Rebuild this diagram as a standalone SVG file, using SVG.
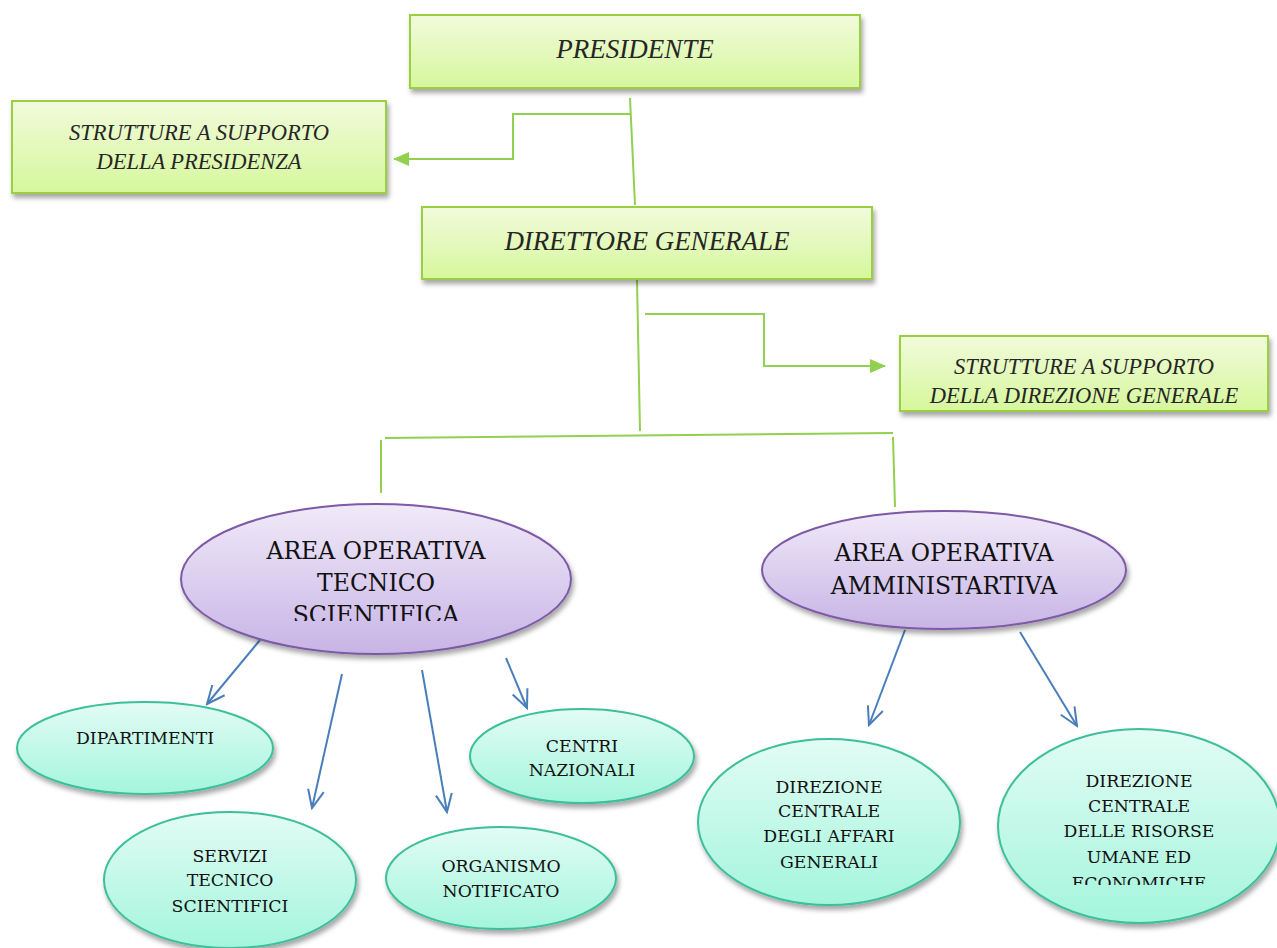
<svg xmlns="http://www.w3.org/2000/svg" width="1277" height="948" viewBox="0 0 1277 948">
<defs>
<linearGradient id="gG" x1="0" y1="0" x2="0" y2="1"><stop offset="0" stop-color="#f1fbdc"/><stop offset="1" stop-color="#d6f79c"/></linearGradient>
<linearGradient id="gP" x1="0" y1="0" x2="0" y2="1"><stop offset="0" stop-color="#f0eaf8"/><stop offset="1" stop-color="#c8b4e6"/></linearGradient>
<linearGradient id="gT" x1="0" y1="0" x2="0" y2="1"><stop offset="0" stop-color="#e2fcf4"/><stop offset="1" stop-color="#a4f5dc"/></linearGradient>
<filter id="sh" x="-10%" y="-10%" width="125%" height="135%"><feDropShadow dx="2" dy="4" stdDeviation="2.5" flood-color="#000" flood-opacity="0.35"/></filter>
<marker id="ag" markerWidth="16" markerHeight="16" refX="15" refY="8" orient="auto" markerUnits="userSpaceOnUse" viewBox="0 0 16 16"><path d="M0,1 L16,8 L0,15 z" fill="#92d050"/></marker>
<marker id="ab" markerWidth="22" markerHeight="22" refX="20" refY="11" orient="auto" markerUnits="userSpaceOnUse" viewBox="0 0 22 22"><path d="M2,3 L20,11 L2,19" fill="none" stroke="#4a7ebb" stroke-width="2"/></marker>
<clipPath id="c1"><rect x="180" y="500" width="400" height="121"/></clipPath>
<clipPath id="c2"><rect x="900" y="336" width="370" height="67"/></clipPath>
<clipPath id="c3"><rect x="990" y="720" width="290" height="165"/></clipPath>
</defs>
<style>
.box{fill:url(#gG);stroke:#9bcf3f;stroke-width:2;filter:url(#sh)}
.pur{fill:url(#gP);stroke:#7d5aa6;stroke-width:2;filter:url(#sh)}
.tea{fill:url(#gT);stroke:#3dbf9a;stroke-width:2;filter:url(#sh)}
.ti{font-family:"Liberation Serif","DejaVu Serif",serif;font-style:italic;fill:#262626;text-anchor:middle}
.tp{font-family:"DejaVu Serif","Liberation Serif",serif;fill:#111;font-size:23.5px;text-anchor:middle}
.tt{font-family:"DejaVu Serif","Liberation Serif",serif;fill:#111;font-size:17.3px;text-anchor:middle}
.gl{fill:none;stroke:#92d050;stroke-width:2}
.bl{fill:none;stroke:#4a7ebb;stroke-width:2}
</style>
<g id="connectors">
<path class="gl" d="M630,98 L635,205"/>
<path class="gl" d="M630,114 L513,114 L513,159 L394,159" marker-end="url(#ag)"/>
<path class="gl" d="M637,280 L640,431"/>
<path class="gl" d="M645,314 L764,314 L764,366 L885,366" marker-end="url(#ag)"/>
<path class="gl" d="M385,438 L893,433"/>
<path class="gl" d="M381,440 L381,493"/>
<path class="gl" d="M893,437 L895,507"/>
<path class="bl" d="M260,640 L207,704" marker-end="url(#ab)"/>
<path class="bl" d="M342,674 L312,808" marker-end="url(#ab)"/>
<path class="bl" d="M422,670 L447,812" marker-end="url(#ab)"/>
<path class="bl" d="M506,658 L527,708" marker-end="url(#ab)"/>
<path class="bl" d="M905,630 L869,725" marker-end="url(#ab)"/>
<path class="bl" d="M1020,632 L1077,726" marker-end="url(#ab)"/>
</g>
<g id="presidente">
<rect class="box" x="410" y="15" width="450" height="73"/>
<text class="ti" x="635" y="58" font-size="27">PRESIDENTE</text>
</g>
<g id="strutture-presidenza">
<rect class="box" x="12" y="101" width="374" height="92"/>
<text class="ti" x="199" y="140" font-size="22.5">STRUTTURE A SUPPORTO</text>
<text class="ti" x="199" y="169" font-size="22.5">DELLA PRESIDENZA</text>
</g>
<g id="direttore">
<rect class="box" x="422" y="207" width="450" height="72"/>
<text class="ti" x="647" y="250" font-size="27">DIRETTORE GENERALE</text>
</g>
<g id="strutture-direzione">
<rect class="box" x="900" y="336" width="368" height="75"/>
<g clip-path="url(#c2)">
<text class="ti" x="1084" y="374" font-size="22.5">STRUTTURE A SUPPORTO</text>
<text class="ti" x="1084" y="403" font-size="22.5">DELLA DIREZIONE GENERALE</text>
</g>
</g>
<g id="area-tecnico">
<ellipse class="pur" cx="376" cy="579" rx="195" ry="75"/>
<g clip-path="url(#c1)">
<text class="tp" x="376" y="559">AREA OPERATIVA</text>
<text class="tp" x="376" y="591">TECNICO</text>
<text class="tp" x="376" y="623">SCIENTIFICA</text>
</g>
</g>
<g id="area-amministrativa">
<ellipse class="pur" cx="944" cy="570" rx="182" ry="59"/>
<text class="tp" x="944" y="561">AREA OPERATIVA</text>
<text class="tp" x="944" y="594">AMMINISTARTIVA</text>
</g>
<g id="dipartimenti">
<ellipse class="tea" cx="145" cy="748" rx="128" ry="46"/>
<text class="tt" x="145" y="744">DIPARTIMENTI</text>
</g>
<g id="centri">
<ellipse class="tea" cx="582" cy="756" rx="112" ry="47"/>
<text class="tt" x="582" y="752">CENTRI</text>
<text class="tt" x="582" y="776">NAZIONALI</text>
</g>
<g id="servizi">
<ellipse class="tea" cx="230" cy="880" rx="126" ry="68"/>
<text class="tt" x="230" y="862">SERVIZI</text>
<text class="tt" x="230" y="886">TECNICO</text>
<text class="tt" x="230" y="912">SCIENTIFICI</text>
</g>
<g id="organismo">
<ellipse class="tea" cx="501" cy="878" rx="115" ry="51"/>
<text class="tt" x="501" y="872">ORGANISMO</text>
<text class="tt" x="501" y="897">NOTIFICATO</text>
</g>
<g id="affari-generali">
<ellipse class="tea" cx="829" cy="822" rx="131" ry="83"/>
<text class="tt" x="829" y="793">DIREZIONE</text>
<text class="tt" x="829" y="817">CENTRALE</text>
<text class="tt" x="829" y="842">DEGLI AFFARI</text>
<text class="tt" x="829" y="868">GENERALI</text>
</g>
<g id="risorse">
<ellipse class="tea" cx="1139" cy="826" rx="141" ry="97"/>
<g clip-path="url(#c3)">
<text class="tt" x="1139" y="787">DIREZIONE</text>
<text class="tt" x="1139" y="812">CENTRALE</text>
<text class="tt" x="1139" y="837">DELLE RISORSE</text>
<text class="tt" x="1139" y="863">UMANE ED</text>
<text class="tt" x="1139" y="889">ECONOMICHE</text>
</g>
</g>
</svg>
